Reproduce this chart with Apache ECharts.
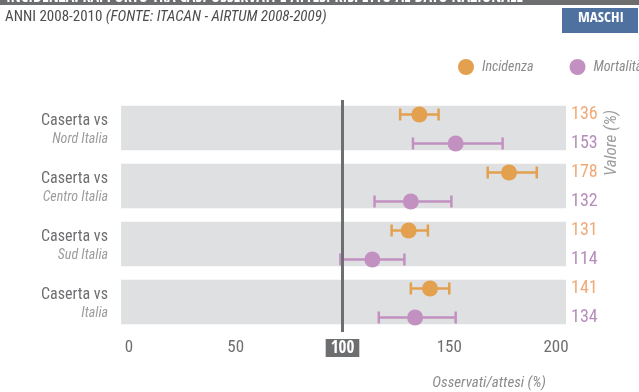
<!DOCTYPE html>
<html><head><meta charset="utf-8">
<script src="https://cdn.jsdelivr.net/npm/echarts@6/dist/echarts.min.js"></script>
<style>html,body{margin:0;padding:0;background:#fff}#c{width:639px;height:392px}</style>
</head><body><div id="c"></div>
<script>
const categories = ['Nord Italia', 'Centro Italia', 'Sud Italia', 'Italia'];
const prefix = 'Caserta vs';
const incidenza = [136, 178, 131, 141];
const incLow = [127, 168, 123, 132];
const incHigh = [145, 191, 140, 150];
const mortalita = [153, 132, 114, 134];
const mortLow = [133, 115, 99, 117];
const mortHigh = [175, 151, 129, 153];

const FONT = '"Roboto Condensed","Liberation Sans",sans-serif';
const BFONT = '"Open Sans Condensed","Roboto Condensed",sans-serif';
const ORANGE = '#e3a04f', PURPLE = '#c291c1';
const ORANGE_T = '#f0aa78', PURPLE_T = '#b58dbb';
const GRAY = '#6d6e70';

const rowLabels = [], rowColors = [];
categories.forEach((c, i) => {
  rowLabels.push(String(incidenza[i])); rowColors.push('o');
  rowLabels.push(String(mortalita[i])); rowColors.push('p');
});
const incPts = incidenza.map((v, i) => [v, 2 * i]);
const mortPts = mortalita.map((v, i) => [v, 2 * i + 1]);
const incErr = incidenza.map((v, i) => [2 * i, incLow[i], incHigh[i]]);
const mortErr = mortalita.map((v, i) => [2 * i + 1, mortLow[i], mortHigh[i]]);
const bands = categories.map((c, i) => [i]);

function errRender(color) {
  return function (params, api) {
    const row = api.value(0);
    const p1 = api.coord([api.value(1), row]);
    const p2 = api.coord([api.value(2), row]);
    const h = 6;
    const st = { stroke: color, lineWidth: 2.5 };
    return { type: 'group', children: [
      { type: 'line', shape: { x1: p1[0], y1: p1[1], x2: p2[0], y2: p2[1] }, style: st },
      { type: 'line', shape: { x1: p1[0], y1: p1[1] - h, x2: p1[0], y2: p1[1] + h }, style: st },
      { type: 'line', shape: { x1: p2[0], y1: p2[1] - h, x2: p2[0], y2: p2[1] + h }, style: st }
    ]};
  };
}

const chart = echarts.init(document.getElementById('c'), null, { renderer: 'canvas' });
chart.setOption({
  animation: false,
  textStyle: { fontFamily: FONT },
  grid: { left: 129, right: 83, top: 100, height: 232 },
  legend: {
    left: 453, top: 54, width: 600, orient: 'horizontal', itemWidth: 16, itemHeight: 16, itemGap: 36, icon: 'circle',
    textStyle: { fontFamily: FONT, fontStyle: 'italic', fontSize: 14, color: '#8a8b8d', padding: [0, 0, 0, 3] },
    data: ['Incidenza', 'Mortalità']
  },
  xAxis: {
    type: 'value', min: 0, max: 200, interval: 50,
    axisLine: { show: false }, axisTick: { show: false }, splitLine: { show: false },
    axisLabel: {
      margin: 7, fontSize: 17, color: GRAY, fontFamily: FONT,
      formatter: v => v === 100 ? '{h|100}' : String(v),
      rich: { h: { backgroundColor: GRAY, color: '#fff', fontWeight: 'bold', fontSize: 17, padding: [1, 5, 0, 5], fontFamily: BFONT } }
    }
  },
  yAxis: [
    { type: 'value', min: -0.5, max: 7.5, inverse: true, show: false },
    { type: 'category', data: categories, inverse: true, position: 'left',
      axisLine: { show: false }, axisTick: { show: false },
      axisLabel: {
        margin: 21, align: 'right',
        formatter: v => '{a|' + prefix + '}\n{b|' + v + '}',
        rich: {
          a: { fontSize: 16, color: GRAY, fontFamily: FONT, lineHeight: 20, align: 'right' },
          b: { fontSize: 14, color: '#9b9c9e', fontStyle: 'italic', fontFamily: FONT, lineHeight: 17, align: 'right' }
        }
      } },
    { type: 'category', data: rowLabels, inverse: true, position: 'right',
      axisLine: { show: false }, axisTick: { show: false },
      axisLabel: {
        margin: 15, fontSize: 18, fontFamily: FONT,
        formatter: (v, i) => '{' + rowColors[i] + '|' + v + '}',
        rich: { o: { color: ORANGE_T, fontSize: 18, fontFamily: FONT }, p: { color: PURPLE_T, fontSize: 18, fontFamily: FONT } }
      } }
  ],
  series: [
    { type: 'custom', yAxisIndex: 0, silent: true, clip: false, data: bands, z: 1,
      renderItem: function (params, api) {
        const k = api.value(0);
        const a = api.coord([-3.7, 2 * k - 0.3]);
        const b = api.coord([204.7, 2 * k + 1 + 0.23]);
        return { type: 'rect', shape: { x: a[0], y: a[1], width: b[0] - a[0], height: b[1] - a[1] }, style: { fill: '#dfe0e1' } };
      } },
    { type: 'custom', yAxisIndex: 0, data: incErr, renderItem: errRender(ORANGE), z: 3, silent: true, clip: false },
    { type: 'custom', yAxisIndex: 0, data: mortErr, renderItem: errRender(PURPLE), z: 3, silent: true, clip: false },
    { name: 'Incidenza', type: 'scatter', yAxisIndex: 0, data: incPts, symbolSize: 16, itemStyle: { color: ORANGE, opacity: 1 }, z: 4,
      markLine: { silent: true, symbol: 'none', label: { show: false }, lineStyle: { color: GRAY, width: 3, type: 'solid' }, data: [{ xAxis: 100 }] } },
    { name: 'Mortalità', type: 'scatter', yAxisIndex: 0, data: mortPts, symbolSize: 16, itemStyle: { color: PURPLE, opacity: 1 }, z: 4 }
  ],
  graphic: [
    { type: 'rect', left: 0, top: -20, shape: { width: 639, height: 25 }, style: { fill: GRAY } },
    { type: 'text', left: 6, top: -10, style: { text: 'INCIDENZA: RAPPORTO TRA CASI OSSERVATI E ATTESI RISPETTO AL DATO NAZIONALE', fill: '#fff', font: 'bold 16px ' + BFONT } },
    { type: 'text', left: 5, top: 10, style: { text: '{a|ANNI 2008-2010 }{b|(FONTE: ITACAN - AIRTUM 2008-2009)}', rich: {
      a: { fontSize: 15, fill: '#4d4d4f', fontFamily: FONT }, b: { fontSize: 15, fill: '#4d4d4f', fontStyle: 'italic', fontFamily: FONT } } } },
    { type: 'rect', left: 562, top: 8, shape: { width: 76, height: 25 }, style: { fill: '#4f71a0' } },
    { type: 'text', left: 578, top: 11, style: { text: 'MASCHI', fill: '#fff', font: 'bold 15px ' + BFONT } },
    { type: 'text', x: 612, y: 143, rotation: Math.PI / 2, style: { text: 'Valore (%)', fill: '#9b9c9e', font: 'italic 17px ' + FONT, align: 'center', verticalAlign: 'middle' } },
    { type: 'text', x: 546, y: 383, style: { text: 'Osservati/attesi (%)', fill: '#8a8b8d', font: 'italic 15px ' + FONT, align: 'right', verticalAlign: 'middle' } }
  ]
});
</script></body></html>
